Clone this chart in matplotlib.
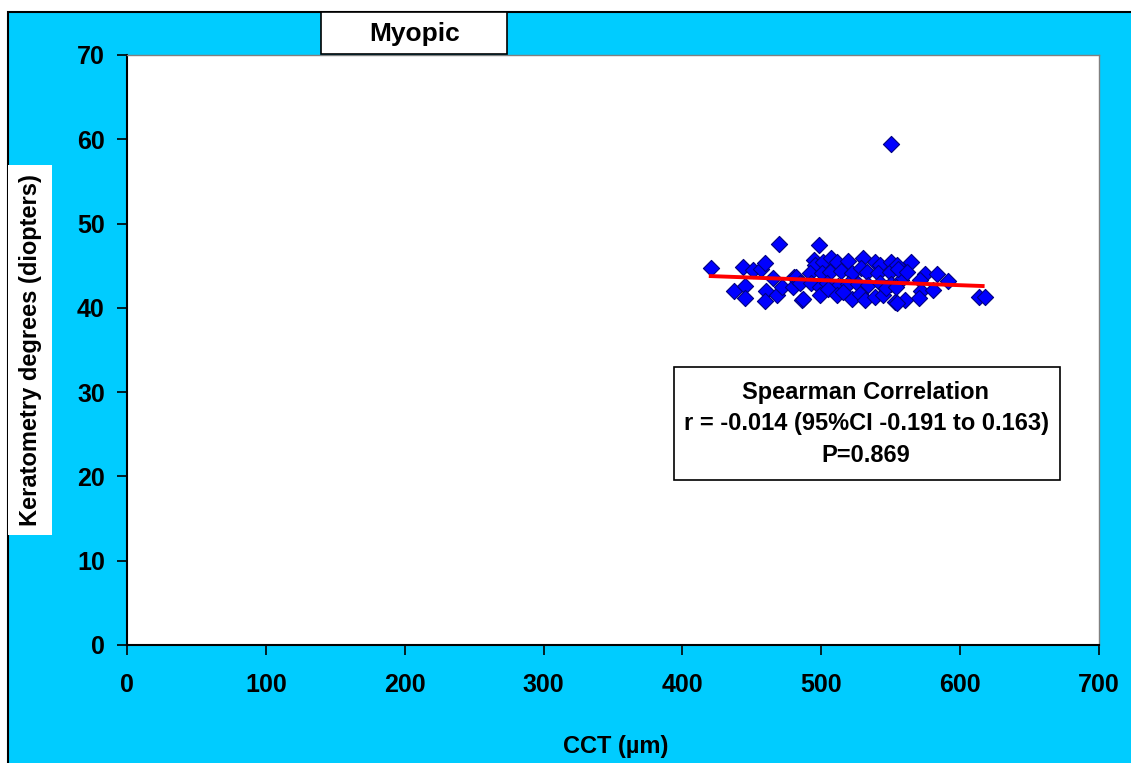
import numpy as np
import matplotlib.pyplot as plt
from matplotlib.patches import Rectangle

plt.rcParams['font.family'] = ['Liberation Sans', 'DejaVu Sans']
plt.rcParams['font.weight'] = 'bold'

# central corneal thickness (um) vs keratometry (D), myopic group
cct = [469.5, 420.4, 443.8, 450.9, 456.9, 459.8, 465.4, 437.2, 444.9, 445.4,
       460.5, 459.3, 468.4, 471.8, 479.7, 480.4, 485.8,
       498.2, 494.7, 495.7, 501.4, 506.8, 511.0, 518.9, 530.1, 538.5, 542.1,
       550.5, 554.2, 491.7, 500.2, 506.1, 514.5, 521.8, 528.9, 532.6, 540.5,
       549.3, 482.1, 484.5, 492.9, 499.0, 504.4, 512.2, 519.3, 526.4, 533.8,
       542.1, 550.5, 557.7, 486.8, 499.0, 504.9, 511.0, 521.8, 527.7, 531.3,
       538.5, 544.6, 552.9, 515.6, 546.9,
       564.4, 554.2, 555.4, 562.0, 574.5, 583.6, 590.9, 570.9, 554.1, 571.6,
       580.6, 570.3, 560.1, 554.2, 613.4, 618.2,
       550.5, 573.3]
kerato = [47.6, 44.7, 44.9, 44.5, 44.6, 45.3, 43.5, 42.0, 42.6, 41.2,
          42.0, 40.8, 41.5, 42.5, 42.5, 43.7, 40.9,
          47.5, 45.7, 45.1, 45.5, 45.9, 45.5, 45.6, 45.9, 45.5, 45.1,
          45.4, 44.9, 44.1, 44.1, 44.2, 44.4, 44.1, 44.7, 44.3, 44.1,
          44.2, 43.7, 42.9, 42.9, 42.5, 43.0, 42.6, 42.8, 42.8, 42.7,
          42.9, 42.8, 43.3, 41.1, 41.5, 42.2, 41.5, 41.1, 41.7, 40.9,
          41.3, 41.5, 40.7, 41.9, 42.3,
          45.4, 45.1, 44.6, 44.2, 44.0, 44.0, 43.2, 43.3, 42.5, 42.0,
          42.1, 41.2, 40.9, 40.6, 41.3, 41.3,
          59.4, 20.6]

# fitted trend line
fit_intercept = 46.30
fit_slope = -0.00602

x_ticks = [0, 100, 200, 300, 400, 500, 600, 700]
y_ticks = [0, 10, 20, 30, 40, 50, 60, 70]

W, H = 1131, 763
FS = 17
fig = plt.figure(figsize=(W / 100, H / 100), dpi=100)
fig.patch.set_facecolor('white')

def fx(px):
    return px / W

def fy(py):
    return 1 - py / H

# cyan frame with black border
fig.patches.append(Rectangle((fx(8), fy(775)), fx(1140) - fx(8), fy(12) - fy(775),
                             transform=fig.transFigure, facecolor='#00CCFF',
                             edgecolor='black', linewidth=1.5, zorder=0))

ax = fig.add_axes([fx(127), fy(645), fx(1099) - fx(127), fy(55) - fy(645)])
ax.set_facecolor('white')

ax.scatter(cct, kerato, marker='D', s=68, facecolor='#0000FF',
           edgecolor='#000080', linewidth=0.8, zorder=3)

xs = np.array([min(cct), max(cct) - 2])
ax.plot(xs, fit_intercept + fit_slope * xs, color='#FF0000', linewidth=2.8, zorder=4)

ax.set_xlim(0, 700)
ax.set_ylim(0, 70)
ax.set_xticks(x_ticks)
ax.set_yticks(y_ticks)
ax.tick_params(direction='out', length=7, width=1.2, labelsize=18)
ax.tick_params(axis='x', pad=13)
ax.tick_params(axis='y', pad=9)
for lab in ax.get_xticklabels() + ax.get_yticklabels():
    lab.set_fontweight('bold')

for side in ['left', 'bottom']:
    ax.spines[side].set_color('black')
    ax.spines[side].set_linewidth(1.5)
for side in ['top', 'right']:
    ax.spines[side].set_color('#808080')
    ax.spines[side].set_linewidth(1.0)

# title box
fig.text(fx(415), fy(34), 'Myopic', ha='center', va='center', fontsize=19,
         fontweight='bold')
fig.patches.append(Rectangle((fx(321), fy(54)), fx(507) - fx(321), fy(12) - fy(54),
                             transform=fig.transFigure, facecolor='white',
                             edgecolor='black', linewidth=1.2, zorder=1))

# y label box
fig.patches.append(Rectangle((fx(8), fy(535)), fx(52) - fx(8), fy(165) - fy(535),
                             transform=fig.transFigure, facecolor='white',
                             edgecolor='none', zorder=1))
fig.text(fx(31), fy(350), 'Keratometry degrees (diopters)', rotation=90,
         ha='center', va='center', fontsize=FS, fontweight='bold')

fig.text(fx(616), fy(747), 'CCT (\u00b5m)', ha='center', va='center',
         fontsize=FS, fontweight='bold')

# correlation box
fig.patches.append(Rectangle((fx(674), fy(480)), fx(1060) - fx(674), fy(367) - fy(480),
                             transform=fig.transFigure, facecolor='white',
                             edgecolor='black', linewidth=1.2, zorder=2))
ax.set_zorder(1)
box_lines = ['Spearman Correlation', 'r = -0.014 (95%CI -0.191 to 0.163)', 'P=0.869']
for i, line in enumerate(box_lines):
    fig.text(fx(866), fy(392 + 31.5 * i), line, ha='center', va='center',
             fontsize=FS, fontweight='bold', zorder=5)

fig.savefig('out.png', dpi=100)
